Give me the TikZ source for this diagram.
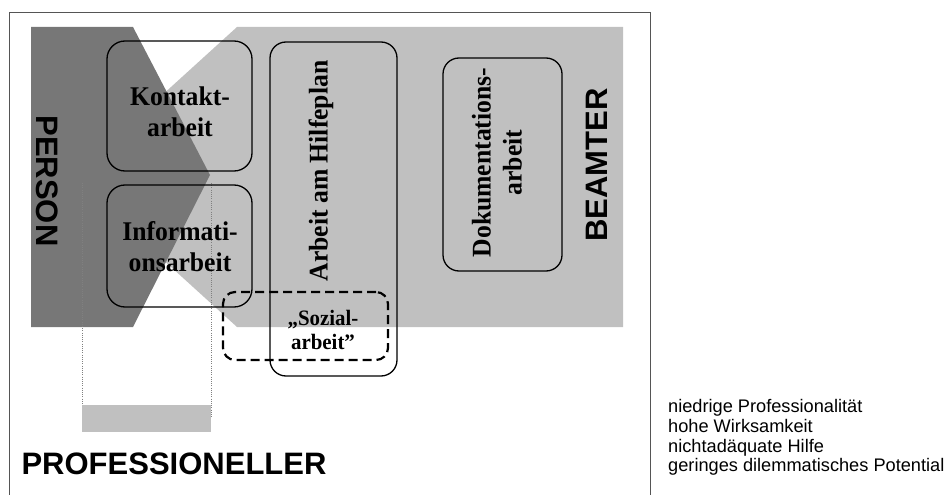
\documentclass[tikz,border=0pt]{standalone}
\usepackage{fontspec}
\setmainfont{Liberation Serif}
\setsansfont{Liberation Sans}
\newfontfamily\narrowserif{Liberation Serif}[FakeStretch=0.95]
\definecolor{darkg}{HTML}{777777}
\definecolor{lightg}{HTML}{C0C0C0}
\definecolor{frameg}{HTML}{555555}
\begin{document}
\begin{tikzpicture}[x=1pt,y=-1pt,
  box/.style={draw=black, line width=1.3pt, rounded corners=18pt, inner sep=0pt},
  dashbox/.style={draw=black, line width=2.2pt, dash pattern=on 9pt off 5pt, rounded corners=12pt, inner sep=0pt},
  biglab/.style={font=\sffamily\bfseries\fontsize{31}{31}\selectfont, inner sep=0pt},
  work/.style={font=\narrowserif\bfseries\fontsize{27}{31}\selectfont, align=center, inner sep=0pt},
  small/.style={font=\narrowserif\bfseries\fontsize{22}{24}\selectfont, align=center, inner sep=0pt},
  note/.style={font=\sffamily\fontsize{18.2}{20}\selectfont, anchor=base west, inner sep=0pt},
  dots/.style={draw=gray, line width=0.6pt, dash pattern=on 1pt off 1.2pt}]
\useasboundingbox (0,0) rectangle (946,495);
% frame
\draw[frameg, line width=1pt] (9,495) -- (9,13) -- (650,13) -- (650,495);
% light (BEAMTER) area
\fill[lightg] (237,27) -- (623,27) -- (623,327) -- (237,327) -- (72,177) -- cycle;
% dark (PERSON) area
\fill[darkg] (31,27) -- (133,27) -- (210,175) -- (133,327) -- (31,327) -- cycle;
% professional column
\draw[dots] (82.5,183) -- (82.5,418);
\draw[dots] (211.5,183) -- (211.5,418);
\fill[lightg] (82,405) rectangle (211,432);
% boxes
\node[box, minimum width=145pt, minimum height=130pt] (kontakt) at (179.5,106) {};
\node[box, minimum width=145pt, minimum height=122pt] (info) at (179.5,246) {};
\node[box, minimum width=127pt, minimum height=334pt, rounded corners=16pt] (hilfe) at (333.5,209) {};
\node[box, minimum width=119pt, minimum height=213pt, rounded corners=16pt] (doku) at (502.5,164.5) {};
\node[dashbox, minimum width=165pt, minimum height=68pt] (sozial) at (305.5,326) {};
% texts
\node[work] (kontakttxt) at (180,112) {Kontakt-\\arbeit};
\node[work] (infotxt) at (180,247) {Informati-\\onsarbeit};
\node[work, rotate=90] (hilfetxt) at (321,171) {Arbeit am Hilfeplan};
\node[work, rotate=90] (dokutxt) at (497,162.5) {Dokumentations-\\arbeit};
\node[small] (sozialtxt) at (323,330) {„Sozial-\\arbeit”};
\node[biglab, rotate=-90] (person) at (47,181) {PERSON};
\node[biglab, rotate=90] (beamter) at (597,165) {BEAMTER};
\node[biglab] (prof) at (174,464) {PROFESSIONELLER};
\node[note] (n1) at (668,412) {niedrige Professionalität};
\node[note] (n2) at (668,432) {hohe Wirksamkeit};
\node[note] (n3) at (668,452) {nichtadäquate Hilfe};
\node[note] (n4) at (668,471.5) {geringes dilemmatisches Potential};
\end{tikzpicture}
\end{document}
